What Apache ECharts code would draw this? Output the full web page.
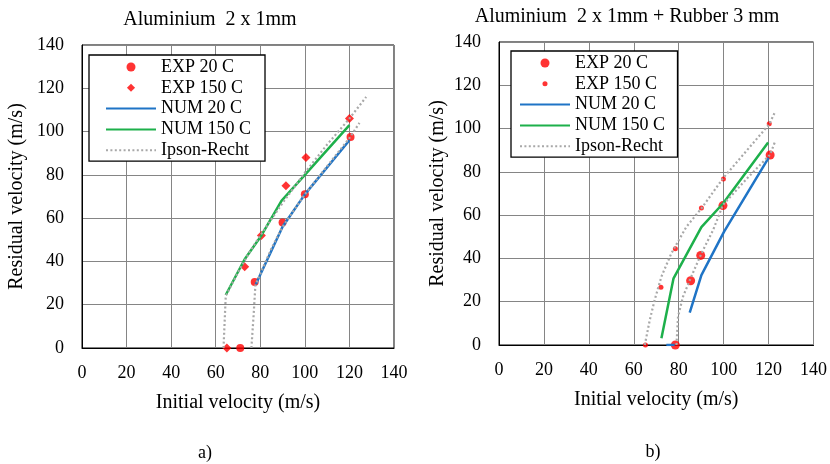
<!DOCTYPE html>
<html>
<head>
<meta charset="utf-8">
<script src="https://cdn.jsdelivr.net/npm/echarts@6/dist/echarts.min.js"></script>
<style>
  html, body { margin: 0; padding: 0; background: #fff; }
  #container { width: 830px; height: 464px; }
</style>
</head>
<body>
<div id="container"></div>
<script>
// axis ticks (both panels share the same scale)
var ticks = [0, 20, 40, 60, 80, 100, 120, 140];

// a) Aluminium 2 x 1mm  -- [initial velocity, residual velocity]
var leftExp20 = [[71, 0], [77.5, 30.5], [90, 58], [100, 71], [120.5, 97.5]];
var leftExp150 = [[65, 0], [73, 37.5], [80.5, 52], [91.5, 75], [100.5, 88], [120, 106]];
var leftNum20 = [[78, 29.5], [90, 56], [100, 71], [120, 96]];
var leftNum150 = [[64.5, 24.5], [73, 41], [80.5, 52], [89.5, 68], [100, 80], [120, 103]];
var leftIpsonUpper = [[63.5, 0], [64, 12], [64.5, 24], [70, 35], [75, 44], [80, 52], [90, 67], [100, 81], [110, 94], [120, 106], [127.5, 116]];
var leftIpsonLower = [[76, 0], [77, 15], [77.8, 29], [85, 46], [90, 56], [100, 71], [110, 84], [120, 97], [124.5, 104]];

// b) Aluminium 2 x 1mm + Rubber 3 mm
var rightExp20 = [[78.5, 0], [85.3, 29.7], [89.8, 41.4], [99.7, 64.4], [120.7, 87.8]];
var rightExp150 = [[65.2, 0], [72.1, 26.7], [78.5, 44.5], [90.1, 63.3], [99.9, 76.7], [120.3, 102.2]];
var rightNum20 = [[74.5, 0], [78.2, 0], '-', [84.9, 15], [90.1, 32.3], [100.2, 52.4], [120, 86.5]];
var rightNum150 = [[72.3, 3.1], [77.7, 30.8], [90.1, 54.5], [99.8, 65.5], [119.8, 93.6]];
var rightIpsonUpper = [[64.9, 0], [67.1, 11.5], [69.3, 20.8], [72.3, 31.6], [76.7, 42.3], [83.4, 54.6], [90.1, 63.1], [99.7, 77], [110, 89.5], [120.3, 102], [123, 108]];
var rightIpsonLower = [[79, 0], [79.7, 13.1], [81.9, 22.3], [85.6, 31.6], [90.1, 42.3], [95.3, 53.1], [99.7, 64.7], [110, 76.5], [120.7, 88], [123, 94.3]];

var names = ['EXP 20 C', 'EXP 150 C', 'NUM 20 C', 'NUM 150 C', 'Ipson-Recht'];
// same labels for panel b, trailing space keeps the two legends apart
var namesB = names.map(function (n) { return n + ' '; });

var FONT = 'Liberation Serif';
var RED = '#ff0000', BLUE = '#1f74c6', GREEN = '#1db04b', GREY = '#a8a8a8';
// legend markers drawn inside a square (invisible) box so they keep their shape
var SMALL_DOT = 'path://M0,0 M10,10 M2.2,5 A2.8,2.8 0 1 1 7.8,5 A2.8,2.8 0 1 1 2.2,5 Z';
var DIAMOND = 'path://M0,0 M10,10 M5,0.5 L9.5,5 L5,9.5 L0.5,5 Z';

function xAxis(idx) {
	return {
		type: 'value', gridIndex: idx, min: ticks[0], max: ticks[ticks.length - 1], interval: 20,
		name: 'Initial velocity (m/s)', nameLocation: 'middle', nameGap: 45,
		nameTextStyle: { fontFamily: FONT, fontSize: 20, color: '#000' },
		axisLine: { lineStyle: { color: '#000', width: 1 } },
		axisTick: { show: false },
		axisLabel: { fontFamily: FONT, fontSize: 18, color: '#000', margin: 16 },
		splitLine: { lineStyle: { color: '#858585', width: 1 } }
	};
}
function yAxis(idx, gap) {
	return {
		type: 'value', gridIndex: idx, min: ticks[0], max: ticks[ticks.length - 1], interval: 20,
		name: 'Residual velocity (m/s)', nameLocation: 'middle', nameGap: gap,
		nameTextStyle: { fontFamily: FONT, fontSize: 20, color: '#000' },
		axisLine: { lineStyle: { color: '#000', width: 1 } },
		axisTick: { show: false },
		axisLabel: { fontFamily: FONT, fontSize: 18, color: '#000', margin: 18 },
		splitLine: { lineStyle: { color: '#858585', width: 1 } }
	};
}
function scatter(name, idx, data, sym, size) {
	return { name: name, type: 'scatter', xAxisIndex: idx, yAxisIndex: idx, data: data,
		symbol: sym, symbolSize: size, itemStyle: { color: RED } };
}
function line(name, idx, data, color, dotted) {
	return { name: name, type: 'line', xAxisIndex: idx, yAxisIndex: idx, data: data,
		symbol: 'none', connectNulls: false, itemStyle: { color: color },
		lineStyle: dotted ? { color: color, width: 2.2, type: [2, 2.4] } : { color: color, width: 2.5 } };
}
function legend(list, left, top, pad) {
	return {
		data: list, orient: 'vertical', left: left, top: top,
		itemWidth: 50, itemHeight: 9, itemGap: 2.8, padding: pad,
		borderColor: '#000', borderWidth: 1.3, backgroundColor: '#fff',
		textStyle: { fontFamily: FONT, fontSize: 18, color: '#000' }
	};
}
// legend entries: hide the dot that line icons get by default
function legendData(list, secondIcon) {
	return list.map(function (n, i) {
		if (i >= 2) return { name: n, itemStyle: { opacity: 0 } };
		if (i === 1) return { name: n, icon: secondIcon };
		return { name: n };
	});
}

var myChart = echarts.init(document.getElementById('container'));
var option = {
	animation: false,
	backgroundColor: '#fff',
	graphic: [
		{ type: 'text', x: 210, y: 20, style: { text: 'Aluminium  2 x 1mm', font: '20px "Liberation Serif"', fill: '#000', textAlign: 'center', textVerticalAlign: 'middle' } },
		{ type: 'text', x: 627, y: 17, style: { text: 'Aluminium  2 x 1mm + Rubber 3 mm', font: '20px "Liberation Serif"', fill: '#000', textAlign: 'center', textVerticalAlign: 'middle' } },
		{ type: 'text', x: 205, y: 453, style: { text: 'a)', font: '18px "Liberation Serif"', fill: '#000', textAlign: 'center', textVerticalAlign: 'middle' } },
		{ type: 'text', x: 653, y: 452, style: { text: 'b)', font: '18px "Liberation Serif"', fill: '#000', textAlign: 'center', textVerticalAlign: 'middle' } }
	],
	grid: [
		{ left: 82, top: 45, width: 312, height: 303, show: true, borderColor: '#000', borderWidth: 1 },
		{ left: 499, top: 42, width: 315, height: 303, show: true, borderColor: '#000', borderWidth: 1 }
	],
	xAxis: [xAxis(0), xAxis(1)],
	yAxis: [yAxis(0, 55), yAxis(1, 51)],
	legend: [
		legend(legendData(names, DIAMOND), 89, 55, [3, 14, 2, 16]),
		legend(legendData(namesB, SMALL_DOT), 511, 51, [3, 8, 2, 8])
	],
	series: [
		scatter(names[0], 0, leftExp20, 'circle', 8),
		scatter(names[1], 0, leftExp150, 'diamond', 9),
		line(names[2], 0, leftNum20, BLUE, false),
		line(names[3], 0, leftNum150, GREEN, false),
		line(names[4], 0, leftIpsonUpper, GREY, true),
		line(names[4], 0, leftIpsonLower, GREY, true),

		scatter(namesB[0], 1, rightExp20, 'circle', 9),
		scatter(namesB[1], 1, rightExp150, 'circle', 5),
		line(namesB[2], 1, rightNum20, BLUE, false),
		line(namesB[3], 1, rightNum150, GREEN, false),
		line(namesB[4], 1, rightIpsonUpper, GREY, true),
		line(namesB[4], 1, rightIpsonLower, GREY, true)
	]
};
myChart.setOption(option);
</script>
</body>
</html>
